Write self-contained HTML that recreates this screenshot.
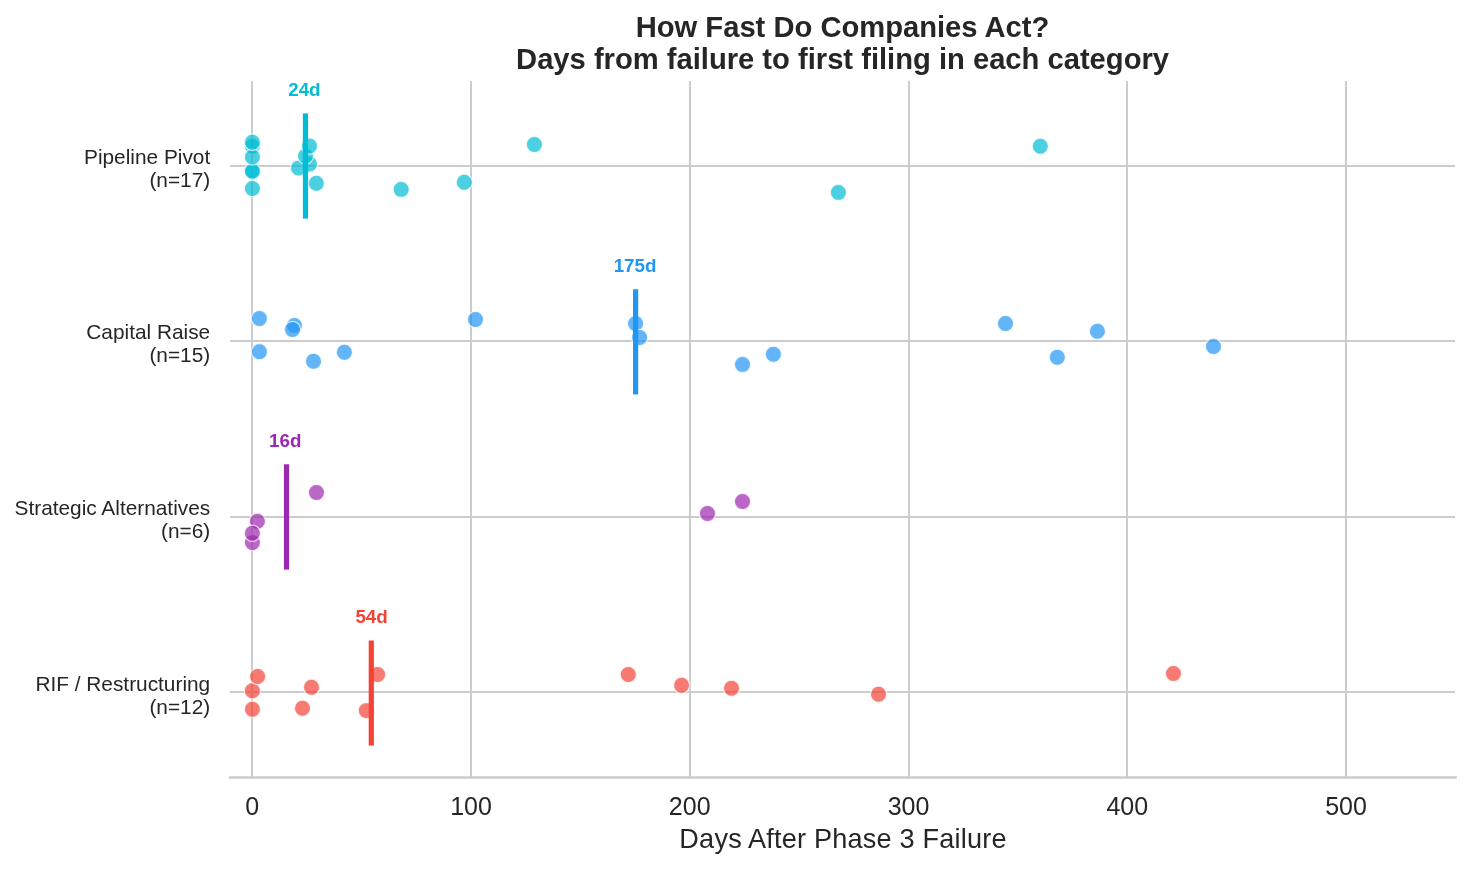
<!DOCTYPE html>
<html lang="en"><head><meta charset="utf-8"><title>How Fast Do Companies Act?</title>
<style>
html,body{margin:0;padding:0;background:#fff}
body{width:1470px;height:869px;overflow:hidden}
svg{display:block;will-change:transform}
text{font-family:"Liberation Sans",Arial,sans-serif;fill:#262626}
.t{font-size:29.17px;font-weight:700;text-anchor:middle}
.xl{font-size:27.08px;text-anchor:middle}
.xt{font-size:25px;text-anchor:middle}
.yt{font-size:20.83px;text-anchor:end}
.an{font-size:18.75px;font-weight:700;text-anchor:middle}
.g{stroke:#ccc;stroke-width:2;shape-rendering:crispEdges}
.d{fill-opacity:.7;stroke:#fff;stroke-opacity:.7;stroke-width:1.3}
</style></head><body>
<svg width="1470" height="869" viewBox="0 0 1470 869">
<rect width="1470" height="869" fill="#fff"/>
<g class="g">
<line x1="252" x2="252" y1="80.6" y2="777.5"/>
<line x1="471" x2="471" y1="80.6" y2="777.5"/>
<line x1="690" x2="690" y1="80.6" y2="777.5"/>
<line x1="909" x2="909" y1="80.6" y2="777.5"/>
<line x1="1127" x2="1127" y1="80.6" y2="777.5"/>
<line x1="1346" x2="1346" y1="80.6" y2="777.5"/>
<line x1="230" x2="1455" y1="166.0" y2="166.0"/>
<line x1="230" x2="1455" y1="341.0" y2="341.0"/>
<line x1="230" x2="1455" y1="517.0" y2="517.0"/>
<line x1="230" x2="1455" y1="692.0" y2="692.0"/>
</g>
<g class="d" fill="#00bcd4">
<circle cx="252.4" cy="172.0" r="8.1"/>
<circle cx="252.4" cy="171.1" r="8.1"/>
<circle cx="252.4" cy="188.5" r="8.1"/>
<circle cx="252.4" cy="146.2" r="8.1"/>
<circle cx="252.4" cy="157.0" r="8.1"/>
<circle cx="252.4" cy="142.2" r="8.1"/>
<circle cx="309.5" cy="164.1" r="8.1"/>
<circle cx="298.5" cy="168.1" r="8.1"/>
<circle cx="305.5" cy="156.1" r="8.1"/>
<circle cx="309.5" cy="146.1" r="8.1"/>
<circle cx="316.3" cy="183.3" r="8.1"/>
<circle cx="401.2" cy="189.4" r="8.1"/>
<circle cx="464.3" cy="182.3" r="8.1"/>
<circle cx="534.4" cy="144.5" r="8.1"/>
<circle cx="838.4" cy="192.4" r="8.1"/>
<circle cx="1040.3" cy="146.3" r="8.1"/>
</g>
<g class="d" fill="#2196f3">
<circle cx="259.4" cy="318.5" r="8.1"/>
<circle cx="294.4" cy="325.5" r="8.1"/>
<circle cx="292.5" cy="329.5" r="8.1"/>
<circle cx="259.4" cy="351.7" r="8.1"/>
<circle cx="313.5" cy="361.3" r="8.1"/>
<circle cx="344.4" cy="352.3" r="8.1"/>
<circle cx="475.5" cy="319.5" r="8.1"/>
<circle cx="635.6" cy="323.5" r="8.1"/>
<circle cx="639.6" cy="337.5" r="8.1"/>
<circle cx="742.5" cy="364.4" r="8.1"/>
<circle cx="773.4" cy="354.3" r="8.1"/>
<circle cx="1005.5" cy="323.5" r="8.1"/>
<circle cx="1057.3" cy="357.3" r="8.1"/>
<circle cx="1097.4" cy="331.3" r="8.1"/>
<circle cx="1213.5" cy="346.5" r="8.1"/>
</g>
<g class="d" fill="#9c27b0">
<circle cx="316.5" cy="492.5" r="8.1"/>
<circle cx="257.4" cy="521.3" r="8.1"/>
<circle cx="252.4" cy="542.6" r="8.1"/>
<circle cx="252.4" cy="533.3" r="8.1"/>
<circle cx="707.5" cy="513.5" r="8.1"/>
<circle cx="742.5" cy="501.5" r="8.1"/>
</g>
<g class="d" fill="#f44336">
<circle cx="252.4" cy="690.7" r="8.1"/>
<circle cx="257.6" cy="676.5" r="8.1"/>
<circle cx="252.4" cy="709.3" r="8.1"/>
<circle cx="311.5" cy="687.3" r="8.1"/>
<circle cx="302.5" cy="708.3" r="8.1"/>
<circle cx="377.6" cy="674.5" r="8.1"/>
<circle cx="366.3" cy="710.6" r="8.1"/>
<circle cx="628.3" cy="674.5" r="8.1"/>
<circle cx="681.6" cy="685.3" r="8.1"/>
<circle cx="731.5" cy="688.3" r="8.1"/>
<circle cx="878.5" cy="694.3" r="8.1"/>
<circle cx="1173.5" cy="673.5" r="8.1"/>
</g>
<line x1="229.1" x2="1456.8" y1="777.5" y2="777.5" stroke="#ccc" stroke-width="2.6"/>
<line x1="305.45" x2="305.45" y1="113.4" y2="218.6" stroke="#00bcd4" stroke-width="5.2"/>
<text class="an" x="304.4" y="96.0" style="fill:#00bcd4">24d</text>
<line x1="635.6" x2="635.6" y1="289.3" y2="394.4" stroke="#2196f3" stroke-width="5.2"/>
<text class="an" x="635.0" y="272.0" style="fill:#2196f3">175d</text>
<line x1="286.5" x2="286.5" y1="464.3" y2="569.6" stroke="#9c27b0" stroke-width="5.2"/>
<text class="an" x="285.2" y="446.8" style="fill:#9c27b0">16d</text>
<line x1="371.3" x2="371.3" y1="640.5" y2="745.6" stroke="#f44336" stroke-width="5.2"/>
<text class="an" x="371.6" y="623.0" style="fill:#f44336">54d</text>
<text class="yt" x="210.2" y="164.1">Pipeline Pivot</text>
<text class="yt" x="210.2" y="186.8">(n=17)</text>
<text class="yt" x="210.2" y="339.4">Capital Raise</text>
<text class="yt" x="210.2" y="361.9">(n=15)</text>
<text class="yt" x="210.2" y="514.7">Strategic Alternatives</text>
<text class="yt" x="210.2" y="537.8">(n=6)</text>
<text class="yt" x="210.2" y="690.7">RIF / Restructuring</text>
<text class="yt" x="210.2" y="713.8">(n=12)</text>
<text class="xt" x="252.2" y="814.6">0</text>
<text class="xt" x="471.0" y="814.6">100</text>
<text class="xt" x="689.7" y="814.6">200</text>
<text class="xt" x="908.5" y="814.6">300</text>
<text class="xt" x="1127.3" y="814.6">400</text>
<text class="xt" x="1346.0" y="814.6">500</text>
<text class="xl" x="843.0" y="848.0" textLength="327.3" lengthAdjust="spacing">Days After Phase 3 Failure</text>
<text class="t" x="842.55" y="36.8">How Fast Do Companies Act?</text>
<text class="t" x="842.55" y="68.9">Days from failure to first filing in each category</text>
</svg></body></html>
